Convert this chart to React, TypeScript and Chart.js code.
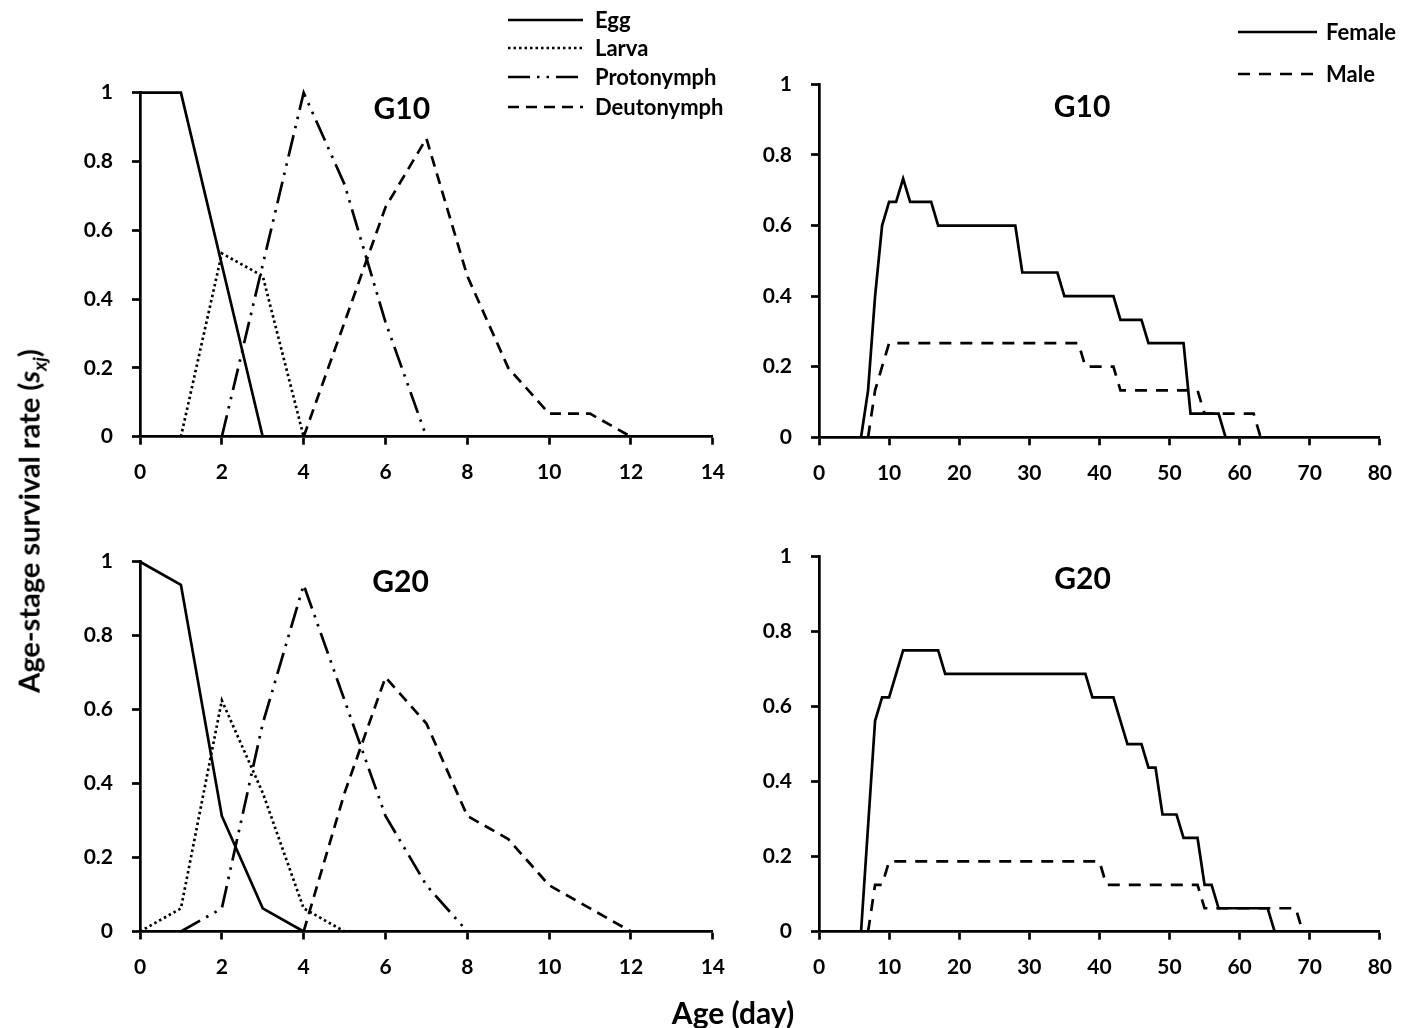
import React, { useEffect, useRef } from "react";
import { Chart, registerables } from "chart.js";

Chart.register(...registerables);

const FONT = 'Lato, "Open Sans", "DejaVu Sans", sans-serif';

// ---------- Data ----------
// Age-stage survival, G10 (stages)
const g10EggAge = [0, 1, 2, 3];
const g10EggVal = [1, 1, 0.5, 0];
const g10LarvaAge = [1, 2, 3, 4];
const g10LarvaVal = [0, 0.533, 0.467, 0];
const g10ProtoAge = [2, 3, 4, 5, 6, 7];
const g10ProtoVal = [0, 0.5, 1, 0.733, 0.333, 0];
const g10DeutoAge = [4, 5, 6, 7, 8, 9, 10, 11, 12];
const g10DeutoVal = [0, 0.333, 0.667, 0.867, 0.467, 0.2, 0.067, 0.067, 0];

// Age-stage survival, G20 (stages)
const g20EggAge = [0, 1, 2, 3, 4];
const g20EggVal = [1, 0.9375, 0.3125, 0.0625, 0];
const g20LarvaAge = [0, 1, 2, 3, 4, 5];
const g20LarvaVal = [0, 0.0625, 0.625, 0.375, 0.0625, 0];
const g20ProtoAge = [1, 2, 3, 4, 5, 6, 7, 8];
const g20ProtoVal = [0, 0.0625, 0.5625, 0.9375, 0.625, 0.3125, 0.125, 0];
const g20DeutoAge = [4, 5, 6, 7, 8, 9, 10, 11, 12];
const g20DeutoVal = [0, 0.375, 0.6875, 0.5625, 0.3125, 0.25, 0.125, 0.0625, 0];

// Adults, G10
const g10FemaleAge = [6, 7, 8, 9, 10, 11, 12, 13, 16, 17, 28, 29, 34, 35, 42, 43, 46, 47, 52, 53, 57, 58];
const g10FemaleVal = [0, 0.133, 0.4, 0.6, 0.667, 0.667, 0.733, 0.667, 0.667, 0.6, 0.6, 0.467, 0.467, 0.4, 0.4, 0.333, 0.333, 0.267, 0.267, 0.067, 0.067, 0];
const g10MaleAge = [7, 8, 9, 10, 37, 38, 42, 43, 54, 55, 62, 63];
const g10MaleVal = [0, 0.133, 0.2, 0.267, 0.267, 0.2, 0.2, 0.133, 0.133, 0.067, 0.067, 0];

// Adults, G20
const g20FemaleAge = [6, 8, 9, 10, 11, 12, 17, 18, 38, 39, 42, 43, 44, 46, 47, 48, 49, 51, 52, 54, 55, 56, 57, 64, 65];
const g20FemaleVal = [0, 0.5625, 0.625, 0.625, 0.6875, 0.75, 0.75, 0.6875, 0.6875, 0.625, 0.625, 0.5625, 0.5, 0.5, 0.4375, 0.4375, 0.3125, 0.3125, 0.25, 0.25, 0.125, 0.125, 0.0625, 0.0625, 0];
const g20MaleAge = [7, 8, 9, 10, 40, 41, 54, 55, 68, 69];
const g20MaleVal = [0, 0.125, 0.125, 0.1875, 0.1875, 0.125, 0.125, 0.0625, 0.0625, 0];

const stageLabels = ["Egg", "Larva", "Protonymph", "Deutonymph"];
const sexLabels = ["Female", "Male"];

// ---------- Styles ----------
const LW = 2.7;
const stageDash: number[][] = [[], [2.5, 3], [22, 7, 2.5, 7, 2.5, 7], [11, 7]];
const sexDash: number[][] = [[], [12, 9]];

const pts = (xs: number[], ys: number[]) => xs.map((x, i) => ({ x, y: ys[i] }));

function mkDatasets(labels: string[], dashes: number[][], series: [number[], number[]][]) {
  return series.map(([xs, ys], i) => ({
    label: labels[i],
    data: pts(xs, ys),
    borderColor: "#000",
    backgroundColor: "#000",
    borderWidth: LW,
    borderDash: dashes[i],
    pointRadius: 0,
    tension: 0,
    fill: false,
    clip: false as any,
  }));
}

const textPlugin = {
  id: "panelText",
  afterDraw(chart: any, _args: any, opts: any) {
    const ctx = chart.ctx;
    const ca = chart.chartArea;
    ctx.save();
    if (opts.title) {
      ctx.font = `bold 30px ${FONT}`;
      ctx.fillStyle = "#000";
      ctx.textAlign = "center";
      ctx.textBaseline = "middle";
      ctx.fillText(opts.title, ca.left + opts.titleFx * (ca.right - ca.left), ca.top + opts.titleDy);
    }
    if (opts.legend) {
      const lg = opts.legend;
      chart.data.datasets.forEach((ds: any, i: number) => {
        const y = lg.rows[i];
        ctx.beginPath();
        ctx.setLineDash(ds.borderDash || []);
        ctx.lineWidth = LW;
        ctx.strokeStyle = "#000";
        ctx.moveTo(lg.x1, y);
        ctx.lineTo(lg.x2, y);
        ctx.stroke();
        ctx.setLineDash([]);
        ctx.font = `bold 22px ${FONT}`;
        ctx.fillStyle = "#000";
        ctx.textAlign = "left";
        ctx.textBaseline = "middle";
        ctx.fillText(ds.label, lg.tx, y + 1);
      });
    }
    ctx.restore();
  },
};

function mkConfig(p: {
  datasets: any[];
  xMax: number;
  xStep: number;
  yW: number;
  xH: number;
  pad: { left: number; top: number; right: number; bottom: number };
  title: string;
  titleFx: number;
  titleDy: number;
  legend?: any;
}) {
  const tickFont = { family: FONT, weight: "bold" as const, size: 21 };
  const grid = {
    display: true,
    drawOnChartArea: false,
    drawTicks: true,
    tickLength: 8,
    tickWidth: LW,
    tickColor: "#000",
  };
  const border = { display: true, color: "#000", width: LW };
  return {
    type: "line" as const,
    data: { datasets: p.datasets },
    plugins: [textPlugin],
    options: {
      animation: false as const,
      responsive: false,
      devicePixelRatio: 1,
      layout: { padding: p.pad },
      plugins: {
        legend: { display: false },
        tooltip: { enabled: false },
        panelText: { title: p.title, titleFx: p.titleFx, titleDy: p.titleDy, legend: p.legend },
      },
      scales: {
        x: {
          type: "linear" as const,
          min: 0,
          max: p.xMax,
          grid,
          border,
          ticks: { stepSize: p.xStep, color: "#000", font: tickFont, padding: 15, maxRotation: 0 },
          afterFit: (s: any) => {
            s.height = p.xH;
          },
        },
        y: {
          type: "linear" as const,
          min: 0,
          max: 1,
          grid,
          border,
          ticks: {
            stepSize: 0.2,
            color: "#000",
            font: tickFont,
            padding: 19,
            callback: (v: any) => String(Number(Number(v).toFixed(1))),
          },
          afterFit: (s: any) => {
            s.width = p.yW;
          },
        },
      },
    },
  };
}

function Panel({ left, top, width, height, config }: any) {
  const ref = useRef<HTMLCanvasElement>(null);
  useEffect(() => {
    if (!ref.current) return;
    const chart = new Chart(ref.current, config);
    return () => chart.destroy();
  }, []);
  return (
    <canvas
      ref={ref}
      width={width}
      height={height}
      style={{ position: "absolute", left, top, width, height }}
    />
  );
}

export default function App() {
  const tl = mkConfig({
    datasets: mkDatasets(stageLabels, stageDash, [
      [g10EggAge, g10EggVal],
      [g10LarvaAge, g10LarvaVal],
      [g10ProtoAge, g10ProtoVal],
      [g10DeutoAge, g10DeutoVal],
    ]),
    xMax: 14,
    xStep: 2,
    yW: 140,
    xH: 63.3,
    pad: { left: 0, top: 92.7, right: 20, bottom: 0 },
    title: "G10",
    titleFx: 0.457,
    titleDy: 17,
    legend: { x1: 508, x2: 583, tx: 595, rows: [20, 48, 77, 107] },
  });
  const tr = mkConfig({
    datasets: mkDatasets(sexLabels, sexDash, [
      [g10FemaleAge, g10FemaleVal],
      [g10MaleAge, g10MaleVal],
    ]),
    xMax: 80,
    xStep: 10,
    yW: 79,
    xH: 62.7,
    pad: { left: 0, top: 84.4, right: 16.3, bottom: 0 },
    title: "G10",
    titleFx: 0.469,
    titleDy: 23,
    legend: { x1: 498, x2: 577, tx: 586, rows: [32, 74] },
  });
  const bl = mkConfig({
    datasets: mkDatasets(stageLabels, stageDash, [
      [g20EggAge, g20EggVal],
      [g20LarvaAge, g20LarvaVal],
      [g20ProtoAge, g20ProtoVal],
      [g20DeutoAge, g20DeutoVal],
    ]),
    xMax: 14,
    xStep: 2,
    yW: 140,
    xH: 96.5,
    pad: { left: 0, top: 61.7, right: 20, bottom: 0 },
    title: "G20",
    titleFx: 0.455,
    titleDy: 21,
  });
  const br = mkConfig({
    datasets: mkDatasets(sexLabels, sexDash, [
      [g20FemaleAge, g20FemaleVal],
      [g20MaleAge, g20MaleVal],
    ]),
    xMax: 80,
    xStep: 10,
    yW: 79,
    xH: 96.3,
    pad: { left: 0, top: 56.7, right: 16.3, bottom: 0 },
    title: "G20",
    titleFx: 0.47,
    titleDy: 23,
  });

  return (
    <div
      style={{
        position: "absolute",
        left: 0,
        top: 0,
        width: 1407,
        height: 1028,
        overflow: "hidden",
        background: "#fff",
        fontFamily: FONT,
      }}
    >
      <Panel left={0} top={0} width={740} height={500} config={tl} />
      <Panel left={740} top={0} width={667} height={500} config={tr} />
      <Panel left={0} top={500} width={740} height={528} config={bl} />
      <Panel left={740} top={500} width={667} height={528} config={br} />
      <div
        style={{
          position: "absolute",
          left: 31,
          top: 521,
          transform: "translate(-50%, -50%) rotate(-90deg)",
          whiteSpace: "nowrap",
          fontWeight: "bold",
          fontSize: 29,
          color: "#000",
          lineHeight: 1,
        }}
      >
        Age-stage survival rate (<i>s</i>
        <sub style={{ fontSize: 19 }}>
          <i>xj</i>
        </sub>
        )
      </div>
      <div
        style={{
          position: "absolute",
          left: 733,
          top: 1012,
          transform: "translate(-50%, -50%)",
          whiteSpace: "nowrap",
          fontWeight: "bold",
          fontSize: 30,
          color: "#000",
          lineHeight: 1,
        }}
      >
        Age (day)
      </div>
    </div>
  );
}
